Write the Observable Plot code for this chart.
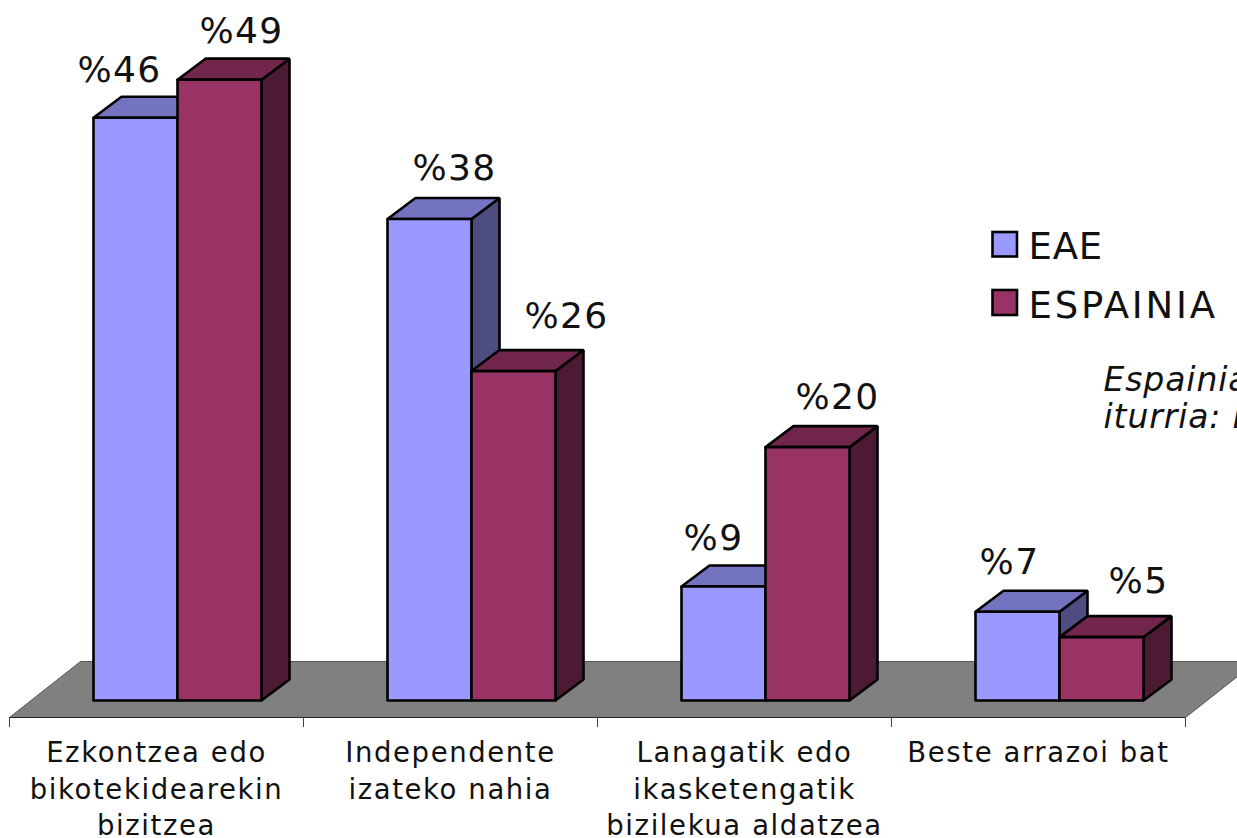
<!DOCTYPE html>
<html><head><meta charset="utf-8">
<script src="https://cdn.jsdelivr.net/npm/d3@7"></script>
<script src="https://cdn.jsdelivr.net/npm/@observablehq/plot@0.6"></script>
<style>
html,body{margin:0;padding:0;background:#fff;overflow:hidden}
svg{overflow:hidden;display:block}
</style></head><body>
<div id="chart"></div>
<script>
const categories = ["Ezkontzea edo\nbikotekidearekin\nbizitzea","Independente\nizateko nahia","Lanagatik edo\nikasketengatik\nbizilekua aldatzea","Beste arrazoi bat"];
const seriesNames = ["EAE","ESPAINIA"];
const eae = [46,38,9,7];
const espainia = [49,26,20,5];
const frontColors = ["#9999ff","#993366"];
const topColors = ["#7373bf","#73264d"];
const sideColors = ["#4d4d80","#4d1a33"];
const noteLines = "Espainiako datuen\niturria: INJUVE";

const pxPerCat = 294, pxPerPct = 12.67;
const barW = 2/7, groupStart = 2/7;
const depthX = 28/pxPerCat, depthV = 21/pxPerPct;
const labelFont = "'DejaVu Sans'";

// label nudges (px) from each bar's top centre
const labelDx = [[-16,22],[25,53],[-10,30],[-8,37]];
const labelDy = [[36,37],[39,43],[36,38],[38,44]];

const spacing = s => (i,sc,v,d,c,next)=>{const g=next(i,sc,v,d,c); g.style.letterSpacing=s; return g;};

const values = [eae, espainia];
const faces = [];
let id = 0;
const face = (color, pts) => { id++; [...pts, pts[0]].forEach(p => faces.push({id, color, x:p[0], y:p[1]})); };
categories.forEach((_, c) => {
  seriesNames.forEach((_, s) => {
    const v = values[s][c];
    const x0 = c + groupStart + s*barW, x1 = x0 + barW;
    face(sideColors[s], [[x1,0],[x1+depthX,depthV],[x1+depthX,v+depthV],[x1,v]]);
    face(topColors[s], [[x0,v],[x0+depthX,v+depthV],[x1+depthX,v+depthV],[x1,v]]);
    face(frontColors[s], [[x0,0],[x1,0],[x1,v],[x0,v]]);
  });
});

const labels = [];
categories.forEach((_, c) => seriesNames.forEach((_, s) => {
  const v = values[s][c];
  labels.push({
    x: c + groupStart + (s+.5)*barW + labelDx[c][s]/pxPerCat,
    y: v + labelDy[c][s]/pxPerPct,
    t: "%"+v
  });
}));

const floorFront = -17/pxPerPct, floorBack = 39/pxPerPct, floorSkew = 71/pxPerCat;
const floor = [[0,floorFront],[4,floorFront],[4+floorSkew,floorBack],[floorSkew,floorBack],[0,floorFront]].map(([x,y])=>({x,y}));
const tickEnd = -27/pxPerPct;

// legend and note placed in scale units
const ux = p => (p-9)/pxPerCat, uv = p => (700-p)/pxPerPct;
const legend = seriesNames.map((name,i)=>({name,color:frontColors[i],x1:ux(992.5),x2:ux(1017),y1:uv(i?315:256.5),y2:uv(i?290:232),ty:uv(i?317:258),tx:ux(1028)}));

const plot = Plot.plot({
  width:1237, height:838,
  marginLeft:9, marginRight:52, marginTop:0, marginBottom:138,
  x:{domain:[0,4],axis:null},
  y:{domain:[0,700/pxPerPct],axis:null},
  color:{type:"identity"},
  marks:[
    Plot.line(floor,{x:"x",y:"y",fill:"#808080",stroke:"#555",strokeWidth:1}),
    Plot.line([{x:0,y:floorFront},{x:4,y:floorFront}],{x:"x",y:"y",stroke:"#222",strokeWidth:1.2}),
    Plot.ruleX([0,1,2,3,4],{y1:floorFront,y2:tickEnd,stroke:"#444",strokeWidth:1}),
    Plot.line(faces,{x:"x",y:"y",z:"id",fill:"color",stroke:"#000",strokeWidth:2.6,strokeLinejoin:"miter"}),
    Plot.text(labels,{x:"x",y:"y",text:"t",fontSize:36,fontFamily:labelFont,fill:"#111",lineAnchor:"bottom",textAnchor:"middle",render:spacing("1.4px")}),
    Plot.text(categories,{x:(d,i)=>i+.5,y:-36/pxPerPct,text:d=>d,fontSize:27.5,fontFamily:labelFont,fill:"#111",lineAnchor:"top",textAnchor:"middle",lineHeight:1.32,render:spacing("1.6px")}),
    Plot.rect(legend,{x1:"x1",x2:"x2",y1:"y1",y2:"y2",fill:"color",stroke:"#000",strokeWidth:2.6}),
    Plot.text(legend.slice(0,1),{x:"tx",y:"ty",text:"name",fontSize:37,fontFamily:labelFont,fill:"#111",lineAnchor:"bottom",textAnchor:"start",render:spacing("0.8px")}),
    Plot.text(legend.slice(1),{x:"tx",y:"ty",text:"name",fontSize:37,fontFamily:labelFont,fill:"#111",lineAnchor:"bottom",textAnchor:"start",render:spacing("2.8px")}),
    Plot.text([noteLines],{x:ux(1103),y:uv(364.5),text:d=>d,fontSize:33,fontStyle:"italic",fontFamily:labelFont,fill:"#111",lineAnchor:"top",textAnchor:"start",lineHeight:1.12,render:spacing("0.9px")})
  ]
});
document.getElementById("chart").append(plot);
</script>
</body></html>
